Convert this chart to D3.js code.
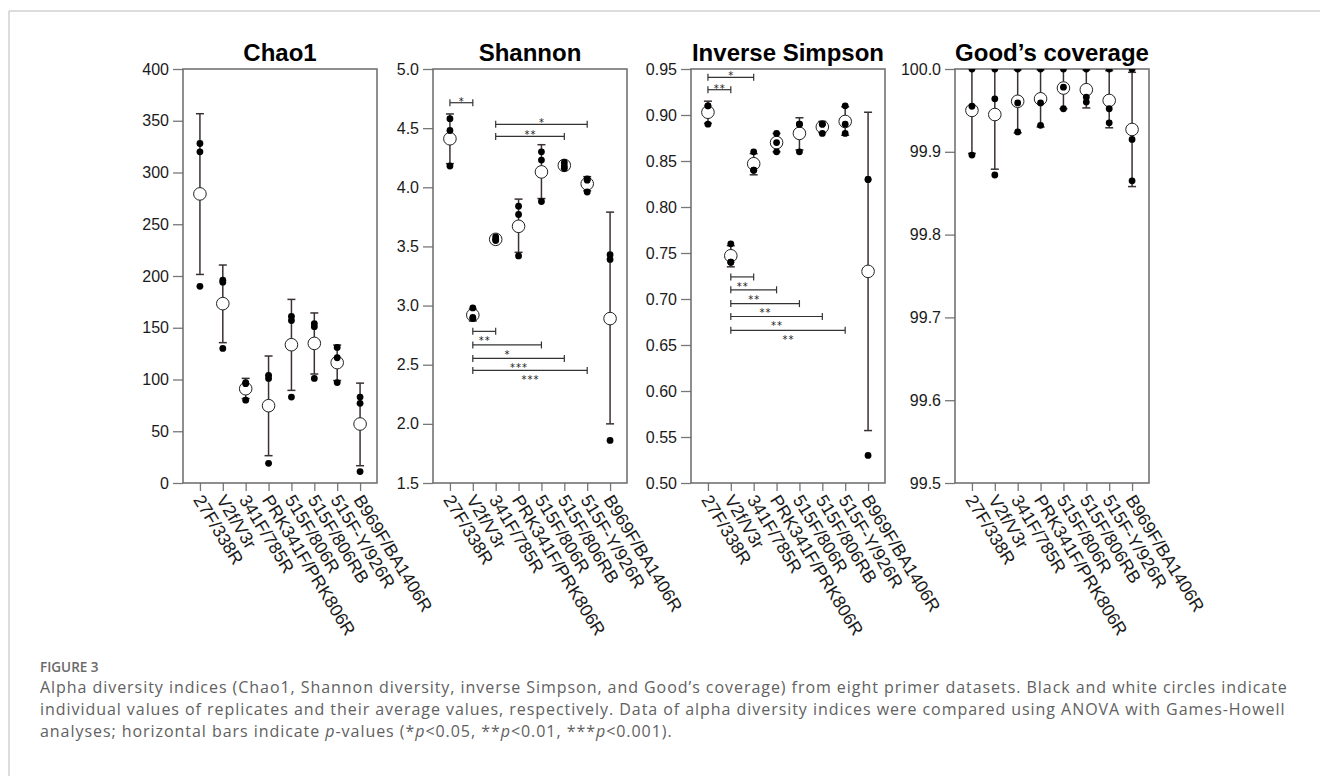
<!DOCTYPE html>
<html>
<head>
<meta charset="utf-8">
<script src="https://cdn.jsdelivr.net/npm/d3@7"></script>
<style>
  body { margin: 0; background: #fff; }
  svg { display: block; }
</style>
</head>
<body>
<script>
// primer datasets (x categories)
var categories = ["27F/338R", "V2f/V3r", "341F/785R", "PRK341F/PRK806R",
  "515F/806R", "515F/806RB", "515F-Y/926R", "B969F/BA1406R"];

// Chao1
var chao1Ticks = [0, 50, 100, 150, 200, 250, 300, 350, 400];
var chao1Reps = [[328, 320, 190], [196, 194, 130], [97, 96, 80], [104, 101, 19],
  [161, 157, 83], [154, 151, 101], [131, 121, 97], [83, 77, 11]];
var chao1Mean = [279.3, 173.3, 91.1, 74.7, 133.6, 134.9, 116.3, 57.0];
var chao1Lo = [201.5, 135.6, 81.6, 26.4, 89.5, 105.3, 99.0, 16.7];
var chao1Hi = [356.8, 210.6, 101.1, 122.7, 177.4, 164.3, 133.3, 96.5];
var chao1Sig = [];

// Shannon
var shannonTicks = [1.5, 2.0, 2.5, 3.0, 3.5, 4.0, 4.5, 5.0];
var shannonReps = [[4.58, 4.48, 4.18], [2.98, 2.90, 2.89], [3.58, 3.56, 3.55], [3.84, 3.77, 3.42],
  [4.30, 4.23, 3.88], [4.21, 4.18, 4.16], [4.07, 4.06, 3.96], [3.43, 3.39, 1.86]];
var shannonMean = [4.41, 2.92, 3.56, 3.67, 4.13, 4.185, 4.03, 2.89];
var shannonLo = [4.20, 2.87, 3.545, 3.45, 3.905, 4.16, 3.97, 2.0];
var shannonHi = [4.62, 2.97, 3.575, 3.90, 4.36, 4.21, 4.09, 3.79];
// [from, to, label, level]
var shannonSig = [[0, 1, "*", 4.715], [2, 6, "*", 4.532], [2, 5, "**", 4.43],
  [1, 2, "**", 2.782], [1, 4, "*", 2.667], [1, 5, "***", 2.553], [1, 6, "***", 2.452]];

// Inverse Simpson
var simpsonTicks = [0.50, 0.55, 0.60, 0.65, 0.70, 0.75, 0.80, 0.85, 0.90, 0.95];
var simpsonReps = [[0.91, 0.91, 0.89], [0.76, 0.74, 0.74], [0.86, 0.84, 0.84], [0.88, 0.87, 0.86],
  [0.89, 0.89, 0.86], [0.89, 0.89, 0.88], [0.91, 0.89, 0.88], [0.83, 0.83, 0.53]];
var simpsonMean = [0.903, 0.747, 0.847, 0.870, 0.880, 0.887, 0.893, 0.730];
var simpsonLo = [0.891, 0.735, 0.835, 0.860, 0.862, 0.881, 0.878, 0.557];
var simpsonHi = [0.915, 0.758, 0.858, 0.880, 0.897, 0.893, 0.909, 0.903];
var simpsonSig = [[0, 2, "*", 0.941], [0, 1, "**", 0.9275],
  [1, 2, "**", 0.724], [1, 3, "**", 0.710], [1, 4, "**", 0.695], [1, 5, "**", 0.681], [1, 6, "**", 0.666]];

// Good's coverage
var goodsTicks = [99.5, 99.6, 99.7, 99.8, 99.9, 100.0];
var goodsReps = [[100.0, 99.955, 99.896], [100.0, 99.964, 99.872], [100.0, 99.959, 99.924], [100.0, 99.959, 99.932],
  [100.0, 99.978, 99.952], [100.0, 99.966, 99.960], [100.0, 99.952, 99.935], [100.0, 99.915, 99.865]];
var goodsMean = [99.950, 99.945, 99.961, 99.964, 99.977, 99.975, 99.962, 99.927];
var goodsLo = [99.898, 99.879, 99.923, 99.930, 99.952, 99.953, 99.929, 99.858];
var goodsHi = [100.002, 100.011, 99.999, 99.999, 100.001, 99.999, 99.998, 99.996];
var goodsSig = [];

var panels = [
  {title: "Chao1", reps: chao1Reps, mean: chao1Mean, lo: chao1Lo, hi: chao1Hi, ticks: chao1Ticks, fmt: d3.format("d"), sig: chao1Sig},
  {title: "Shannon", reps: shannonReps, mean: shannonMean, lo: shannonLo, hi: shannonHi, ticks: shannonTicks, fmt: d3.format(".1f"), sig: shannonSig},
  {title: "Inverse Simpson", reps: simpsonReps, mean: simpsonMean, lo: simpsonLo, hi: simpsonHi, ticks: simpsonTicks, fmt: d3.format(".2f"), sig: simpsonSig},
  {title: "Good\u2019s coverage", reps: goodsReps, mean: goodsMean, lo: goodsLo, hi: goodsHi, ticks: goodsTicks, fmt: d3.format(".1f"), sig: goodsSig}
];

var W = 1320, H = 776;
var panelLeft = [183, 433, 691, 955],
  plotTop = 69,
  plotW = 194,
  plotH = 414;
var font = "'Liberation Sans', Arial, sans-serif";

var svg = d3.select("body")
  .append("svg")
    .attr("width", W)
    .attr("height", H);

// page frame lines
svg.append("line")
  .attr("x1", 9).attr("x2", W).attr("y1", 11).attr("y2", 11)
  .attr("stroke", "#d0d0d0").attr("stroke-width", 1.5);
svg.append("line")
  .attr("x1", 9).attr("x2", 9).attr("y1", 11).attr("y2", H)
  .attr("stroke", "#d0d0d0").attr("stroke-width", 1.5);

var x = d3.scalePoint()
  .domain(categories)
  .range([0, plotW])
  .padding(0.74);

panels.forEach(function(p, i) {
  var g = svg.append("g")
    .attr("transform", "translate(" + panelLeft[i] + "," + plotTop + ")");

  var y = d3.scaleLinear()
    .domain([p.ticks[0], p.ticks[p.ticks.length - 1]])
    .range([plotH, 0]);

  // Y axis
  var ya = g.append("g")
    .call(d3.axisLeft(y).tickValues(p.ticks).tickFormat(p.fmt).tickSize(10).tickPadding(4).tickSizeOuter(0));
  ya.select(".domain").remove();
  ya.selectAll("line").attr("stroke", "#777").attr("stroke-width", 1.3);
  ya.selectAll("text")
    .style("font-family", font).style("font-size", "16px").attr("fill", "#1a1a1a");

  // X axis
  var xa = g.append("g")
    .attr("transform", "translate(0," + plotH + ")")
    .call(d3.axisBottom(x).tickSize(8).tickSizeOuter(0));
  xa.select(".domain").remove();
  xa.selectAll("line").attr("stroke", "#777").attr("stroke-width", 1.3);
  xa.selectAll("text")
    .attr("x", 0).attr("y", 0).attr("dy", "0.5em")
    .attr("transform", "translate(0,12) rotate(58.5)")
    .style("text-anchor", "start")
    .style("font-family", font).style("font-size", "17.8px").attr("fill", "#1a1a1a");

  // frame
  g.append("rect")
    .attr("width", plotW).attr("height", plotH)
    .attr("fill", "none").attr("stroke", "#6a6a6a").attr("stroke-width", 1.5);

  // title
  g.append("text")
    .attr("x", plotW / 2).attr("y", -8)
    .attr("text-anchor", "middle")
    .style("font-family", font).style("font-size", "24px").style("font-weight", "bold")
    .text(p.title);

  g.append("clipPath").attr("id", "clip" + i)
    .append("rect").attr("width", plotW).attr("height", plotH);
  var m = g.append("g").attr("clip-path", "url(#clip" + i + ")");

  // error bars
  var eb = m.selectAll(".eb").data(categories).enter().append("g").attr("class", "eb")
    .attr("stroke", "#3a3131").attr("stroke-width", 1.5);
  eb.append("line")
    .attr("x1", function(d) { return x(d); }).attr("x2", function(d) { return x(d); })
    .attr("y1", function(d, j) { return y(p.lo[j]); })
    .attr("y2", function(d, j) { return y(p.hi[j]); });
  eb.append("line")
    .attr("x1", function(d) { return x(d) - 4; }).attr("x2", function(d) { return x(d) + 4; })
    .attr("y1", function(d, j) { return y(p.lo[j]); })
    .attr("y2", function(d, j) { return y(p.lo[j]); });
  eb.append("line")
    .attr("x1", function(d) { return x(d) - 4; }).attr("x2", function(d) { return x(d) + 4; })
    .attr("y1", function(d, j) { return y(p.hi[j]); })
    .attr("y2", function(d, j) { return y(p.hi[j]); });

  // mean (white) circles
  m.selectAll(".mean").data(categories).enter().append("circle")
    .attr("cx", function(d) { return x(d); })
    .attr("cy", function(d, j) { return y(p.mean[j]); })
    .attr("r", 6.3)
    .attr("fill", "#fff").attr("stroke", "#222").attr("stroke-width", 1);

  // replicate (black) dots
  var pts = [];
  p.reps.forEach(function(r, j) { r.forEach(function(v) { pts.push({c: categories[j], v: v}); }); });
  m.selectAll(".rep").data(pts).enter().append("circle")
    .attr("cx", function(d) { return x(d.c); })
    .attr("cy", function(d) { return y(d.v); })
    .attr("r", 3.4)
    .attr("fill", "#000");

  // significance brackets
  var sg = g.selectAll(".sig").data(p.sig).enter().append("g")
    .attr("stroke", "#333").attr("stroke-width", 1.2);
  sg.append("line")
    .attr("x1", function(d) { return x(categories[d[0]]); })
    .attr("x2", function(d) { return x(categories[d[1]]); })
    .attr("y1", function(d) { return y(d[3]); }).attr("y2", function(d) { return y(d[3]); });
  [0, 1].forEach(function(k) {
    sg.append("line")
      .attr("x1", function(d) { return x(categories[d[k]]); })
      .attr("x2", function(d) { return x(categories[d[k]]); })
      .attr("y1", function(d) { return y(d[3]) - 3.5; })
      .attr("y2", function(d) { return y(d[3]) + 3.5; });
  });
  // labels sit just above the upper brackets and just below the lower ones
  sg.append("text")
    .attr("stroke", "none").attr("fill", "#1a1a1a")
    .attr("x", function(d) { return (x(categories[d[0]]) + x(categories[d[1]])) / 2 + 0.5; })
    .attr("y", function(d) { return y(d[3]) + (d[3] > p.mean[d[0]] ? 1.8 : 12.7); })
    .attr("text-anchor", "middle")
    .style("font-family", "'DejaVu Sans', sans-serif").style("font-size", "10px").style("letter-spacing", "1px")
    .text(function(d) { return d[2]; });
});

// caption
var cap = svg.append("g")
  .style("font-family", "'Open Sans', sans-serif")
  .attr("fill", "#616161");
cap.append("text").attr("x", 40).attr("y", 672)
  .style("font-size", "13.5px").style("font-weight", "600").attr("fill", "#6a6a6a")
  .text("FIGURE 3");
var capLines = cap.append("g").style("font-size", "16px").style("letter-spacing", "0.95px");
capLines.append("text").attr("x", 40).attr("y", 693)
  .text("Alpha diversity indices (Chao1, Shannon diversity, inverse Simpson, and Good\u2019s coverage) from eight primer datasets. Black and white circles indicate");
capLines.append("text").attr("x", 40).attr("y", 715)
  .text("individual values of replicates and their average values, respectively. Data of alpha diversity indices were compared using ANOVA with Games-Howell");
var l3 = capLines.append("text").attr("x", 40).attr("y", 737);
var parts = [["analyses; horizontal bars indicate ", 0], ["p", 1], ["-values (*", 0], ["p", 1],
  ["<0.05, **", 0], ["p", 1], ["<0.01, ***", 0], ["p", 1], ["<0.001).", 0]];
parts.forEach(function(t) {
  l3.append("tspan").style("font-style", t[1] ? "italic" : "normal").text(t[0]);
});
</script>
</body>
</html>
